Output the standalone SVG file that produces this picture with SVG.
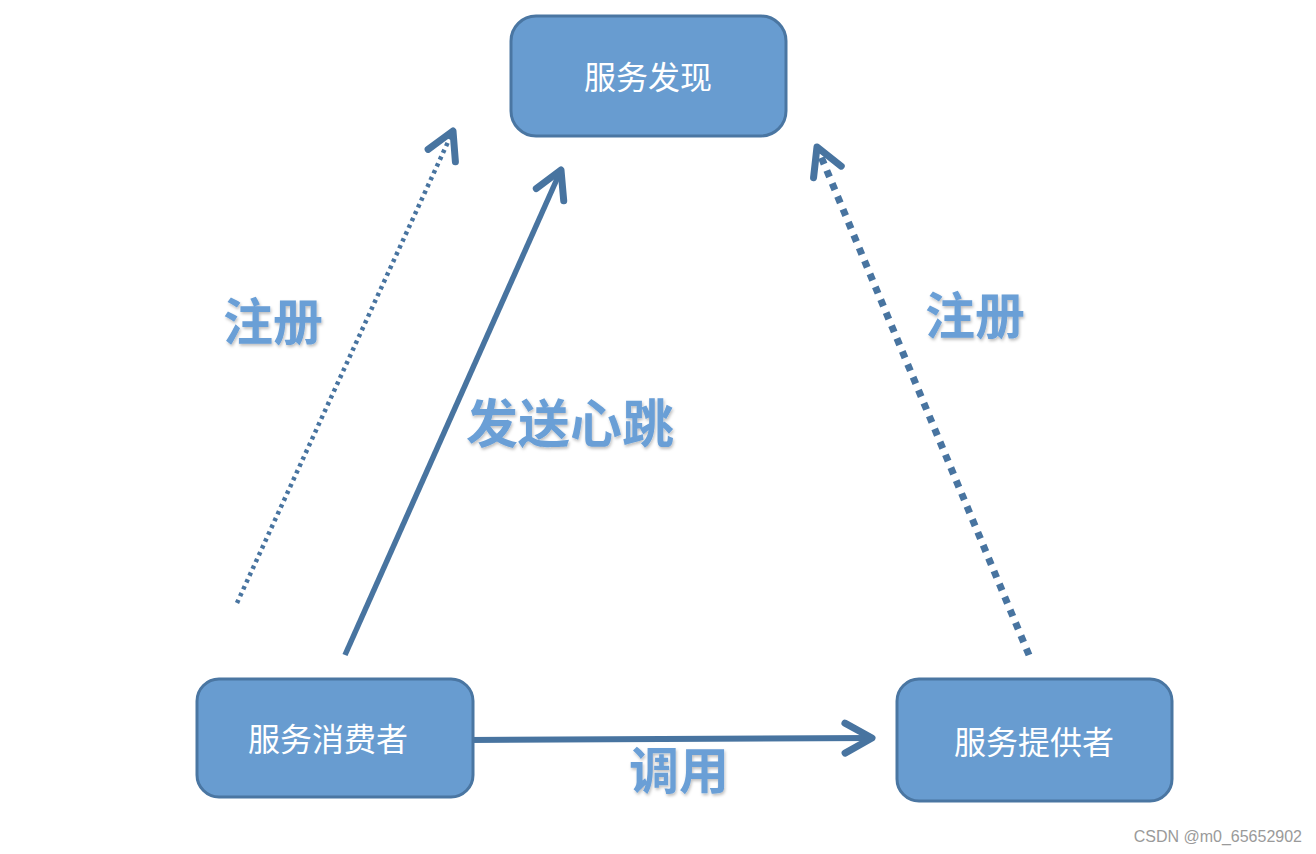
<svg xmlns="http://www.w3.org/2000/svg" width="1316" height="854" viewBox="0 0 1316 854">
  <defs>
    <style>
      .node rect { fill: #689CD0; stroke: #4A76A2; stroke-width: 3; }
      .node text { fill: #ffffff; font-family: "Noto Sans CJK SC", "Noto Sans", sans-serif; font-size: 32px; text-anchor: middle; dominant-baseline: central; }
      .edge { stroke: #4874A0; fill: none; }
      .label { fill: #6A9FD6; font-family: "Noto Sans CJK SC", sans-serif; font-weight: bold; text-anchor: middle; dominant-baseline: central; filter: url(#shadow); }
      .wm { fill: #9a9a9a; font-family: "Liberation Sans", Arial, sans-serif; font-size: 16px; text-anchor: end; }
    </style>
    <filter id="shadow" x="-20%" y="-20%" width="140%" height="140%">
      <feDropShadow dx="1" dy="2" stdDeviation="1.5" flood-color="#000000" flood-opacity="0.25"/>
    </filter>
    <marker id="chev" markerUnits="userSpaceOnUse" markerWidth="60" markerHeight="60" viewBox="-40 -30 60 60" refX="0" refY="0" orient="auto" overflow="visible">
      <path d="M-27,-15 L0,0 L-27,15" fill="none" stroke="#4874A0" stroke-width="7" stroke-linecap="round" stroke-linejoin="round"/>
    </marker>
  </defs>
  <rect width="1316" height="854" fill="#ffffff"/>

  <g id="connectors">
    <line class="edge" x1="237" y1="603" x2="453" y2="131" stroke-width="4.5" stroke-dasharray="3.5 4" marker-end="url(#chev)"/>
    <line class="edge" x1="345" y1="655" x2="561" y2="170" stroke-width="5.5" marker-end="url(#chev)"/>
    <line class="edge" x1="1029" y1="655" x2="817" y2="147" stroke-width="7" stroke-dasharray="7 7" marker-end="url(#chev)"/>
    <line class="edge" x1="469" y1="740" x2="872" y2="738" stroke-width="6" marker-end="url(#chev)"/>
  </g>

  <g id="node-discovery" class="node">
    <rect x="511" y="16" width="275" height="120" rx="25"/>
    <text x="648" y="75">服务发现</text>
  </g>
  <g id="node-consumer" class="node">
    <rect x="197" y="679" width="276" height="118" rx="22"/>
    <text x="328" y="737">服务消费者</text>
  </g>
  <g id="node-provider" class="node">
    <rect x="897" y="679" width="275" height="122" rx="22"/>
    <text x="1034" y="740">服务提供者</text>
  </g>

  <g id="labels">
    <text class="label" x="273" y="318" font-size="50">注册</text>
    <text class="label" x="570" y="420" font-size="52">发送心跳</text>
    <text class="label" x="975" y="312" font-size="50">注册</text>
    <text class="label" x="679" y="767" font-size="50">调用</text>
  </g>

  <text class="wm" x="1302" y="842">CSDN @m0_65652902</text>
</svg>
